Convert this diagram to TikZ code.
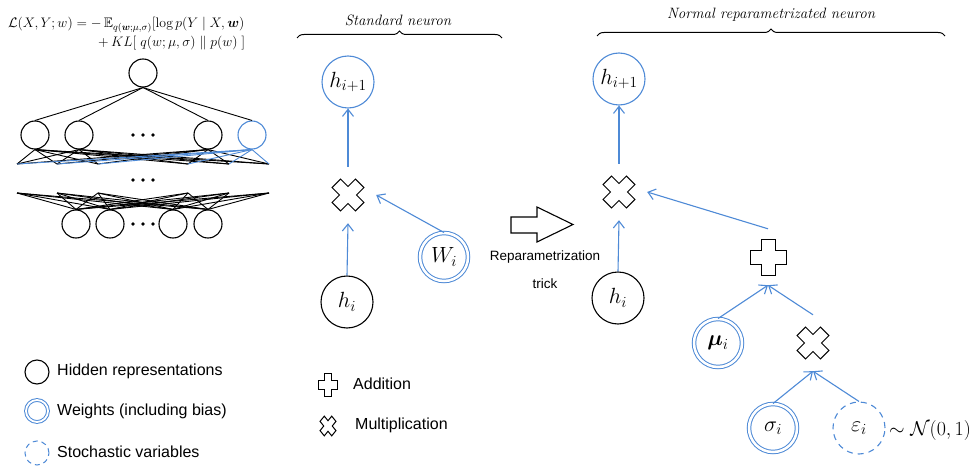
\RequirePackage{fix-cm}
\documentclass[tikz,border=0pt]{standalone}
\usepackage{amsmath,amssymb,bm}
\usepackage{fontspec}
\setsansfont{Liberation Sans}
\usetikzlibrary{arrows.meta,decorations.pathreplacing,calc}
\definecolor{nblue}{RGB}{78,138,214}
\tikzset{
  plusshape/.pic={\draw[line width=1pt,line join=miter,fill=white]
     (-7,-18)--(-7,-7)--(-18,-7)--(-18,7)--(-7,7)--(-7,18)--(7,18)--(7,7)--(18,7)--(18,-7)--(7,-7)--(7,-18)--cycle;},
  crossshape/.pic={\draw[line width=1pt,line join=miter,fill=white,rotate=45]
     (-6,-16.5)--(-6,-6)--(-16.5,-6)--(-16.5,6)--(-6,6)--(-6,16.5)--(6,16.5)--(6,6)--(16.5,6)--(16.5,-6)--(6,-6)--(6,-16.5)--cycle;},
}
\begin{document}
\begin{tikzpicture}[x=1pt,y=-1pt,
  nn/.style={circle,draw=black,line width=1.1pt,inner sep=0pt,minimum size=28pt},
  edge/.style={line width=0.9pt,black},
  hid/.style={circle,draw=black,line width=1.1pt,inner sep=0pt,minimum size=52pt,font=\fontsize{22}{26}\selectfont},
  outn/.style={hid,draw=nblue},
  wgt/.style={circle,draw=nblue,line width=1pt,double=white,double distance=2.5pt,inner sep=0pt,minimum size=48pt,font=\fontsize{22}{26}\selectfont},
  stoch/.style={circle,draw=nblue,line width=1.1pt,dash pattern=on 6pt off 5pt,inner sep=0pt,minimum size=52pt,font=\fontsize{22}{26}\selectfont},
  opn/.style={circle,draw=none,inner sep=0pt,minimum size=56pt},
  conn/.style={draw=nblue,line width=1.1pt,-{Straight Barb[length=7pt,width=11pt]}},
  lab/.style={font=\sffamily\fontsize{16}{19}\selectfont,anchor=west,inner sep=0pt},
  head/.style={font=\itshape\fontsize{15}{18}\selectfont,inner sep=0pt},
  brc/.style={decorate,decoration={brace,amplitude=7pt},line width=1pt},
]
\useasboundingbox (0,0) rectangle (980,468);

% ---------- equation ----------
\node[anchor=base west,inner sep=0pt,font=\fontsize{13.8}{17}\selectfont] (eq1) at (8,28)
  {$\mathcal{L}(X,Y;w) = -\,\mathbb{E}_{q(\bm{w};\mu,\sigma)}[\log p(Y \mid X,\bm{w})$};
\node[anchor=base west,inner sep=0pt,font=\fontsize{13.8}{17}\selectfont] (eq2) at (98,47)
  {$+\,KL[\;q(w;\mu,\sigma)\;\|\;p(w)\;]$};

% ---------- network ----------
\node[nn] (t) at (143,73) {};
\node[nn] (a1) at (35,135) {};
\node[nn] (a2) at (79,135) {};
\node[nn] (a3) at (208,135) {};
\node[nn,draw=nblue] (a4) at (252,135) {};
\foreach \i in {1,...,4} \draw[edge] (t.south) -- (a\i.north);
\foreach \j/\x in {1/17,2/57,3/98,4/188,5/229,6/269}{
  \coordinate (b\j) at (\x,164);
  \coordinate (c\j) at (\x,193);
}
\foreach \i in {1,2,3} \foreach \j in {1,...,6} \draw[edge] (a\i.south) -- (b\j);
\foreach \j in {1,...,6} \draw[edge,nblue] (a4.south) -- (b\j);
\node[nn] (d1) at (76,224) {};
\node[nn] (d2) at (110,224) {};
\node[nn] (d3) at (173,224) {};
\node[nn] (d4) at (208,224) {};
\foreach \j in {1,...,6} \foreach \k in {1,...,4} \draw[edge] (c\j) -- (d\k.north);
\foreach \x in {133,143,153}{
  \fill (\x,135) circle (1.8);
  \fill (\x,180) circle (1.8);
  \fill (\x,224) circle (1.8);
}

% ---------- headings ----------
\node[head] (hs) at (398,20) {Standard neuron};
\draw[brc] (297,38) -- (502,38);
\node[head] (hr) at (771,15) {Normal reparametrizated neuron};
\draw[brc] (597,36) -- (945,36);

% ---------- standard neuron ----------
\node[outn] (s1) at (348,82) {$h_{i+1}$};
\node[opn] (sx) at (348,195) {};
\pic at (sx) {crossshape};
\node[hid] (sh) at (347,302) {$h_i$};
\node[wgt] (sw) at (444,257) {$W_i$};
\draw[conn] (sx.north) -- (s1.south);
\draw[conn] (sh.north) -- (sx.south);
\draw[conn] (sw.north) -- (sx.east);

% ---------- block arrow ----------
\draw[line width=1.1pt,line join=miter] (511,217)--(537,217)--(537,207)--(573,224.5)--(537,242)--(537,233)--(511,233)--cycle;
\node[font=\sffamily\fontsize{13.5}{16}\selectfont] (rt1) at (545,257) {Reparametrization};
\node[font=\sffamily\fontsize{13.5}{16}\selectfont] (rt2) at (545,284) {trick};

% ---------- reparametrized neuron ----------
\node[outn] (r1) at (619,79) {$h_{i+1}$};
\node[opn] (rx) at (619,192) {};
\pic at (rx) {crossshape};
\node[hid] (rh) at (618,298) {$h_i$};
\node[opn] (rp) at (768,257) {};
\pic at (rp) {plusshape};
\node[wgt] (rmu) at (718,343) {$\bm{\mu}_i$};
\node[opn] (rx2) at (813,343) {};
\pic at (rx2) {crossshape};
\node[wgt] (rs) at (773,428) {$\sigma_i$};
\node[stoch] (re) at (859,428) {$\varepsilon_i$};
\node[anchor=west,inner sep=0pt,font=\fontsize{20}{24}\selectfont] (rn) at (889,430) {$\sim\mathcal{N}(0,1)$};
\draw[conn] (rx.north) -- (r1.south);
\draw[conn] (rh.north) -- (rx.south);
\draw[conn] (rp.north) -- (rx.east);
\draw[conn] (rmu.north) -- (rp.south);
\draw[conn] (rx2.north) -- (rp.south);
\draw[conn] (rs.north) -- (rx2.south);
\draw[conn] (re.north) -- (rx2.south);

% ---------- legend ----------
\node[circle,draw=black,line width=1.1pt,minimum size=24pt,inner sep=0pt] (l1) at (37,372) {};
\node[lab] (t1) at (57,371) {Hidden representations};
\node[circle,draw=nblue,line width=1pt,double=white,double distance=1.8pt,minimum size=22pt,inner sep=0pt] (l2) at (37,411) {};
\node[lab] (t2) at (57,411) {Weights (including bias)};
\node[circle,draw=nblue,line width=1pt,dash pattern=on 5pt off 4pt,minimum size=24pt,inner sep=0pt] (l3) at (37,453) {};
\node[lab] (t3) at (57,452) {Stochastic variables};
\node[inner sep=0pt,minimum size=20pt] (lp) at (328,385) {};
\pic[xscale=0.52,yscale=0.64] at (lp) {plusshape};
\node[lab] (t4) at (353,384) {Addition};
\node[inner sep=0pt,minimum size=20pt] (lx) at (328,426) {};
\pic[xscale=0.5,yscale=0.62] at (lx) {crossshape};
\node[lab] (t5) at (355,425) {Multiplication};
\end{tikzpicture}
\end{document}
